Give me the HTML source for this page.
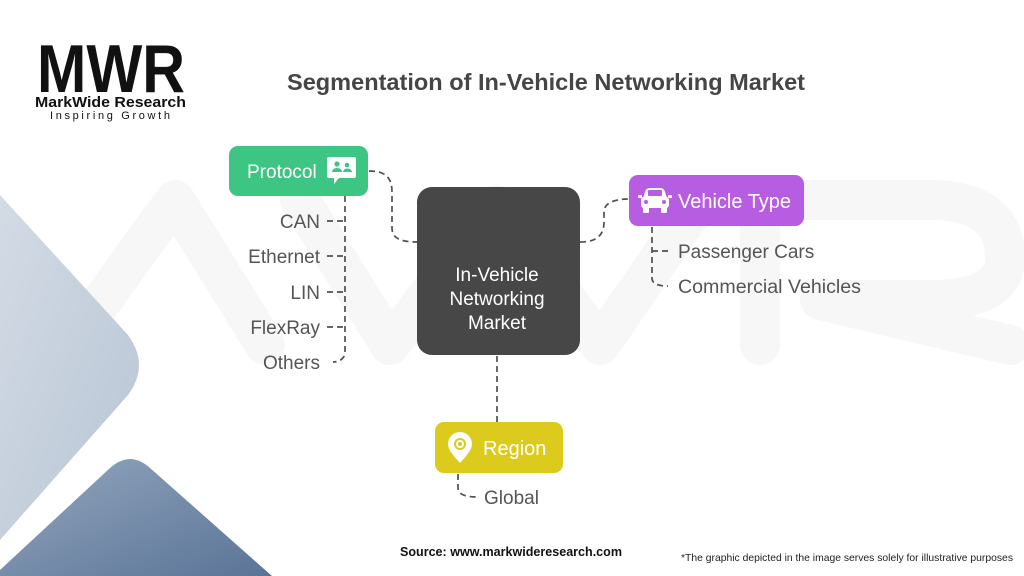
<!DOCTYPE html>
<html><head><meta charset="utf-8">
<style>
html,body{margin:0;padding:0;background:#fff;}
svg{display:block;}
</style></head>
<body>
<svg width="1024" height="576" viewBox="0 0 1024 576" xmlns="http://www.w3.org/2000/svg">
<defs>
<linearGradient id="g1" x1="0" y1="0" x2="1" y2="1">
<stop offset="0" stop-color="#d3dbe5"/><stop offset="1" stop-color="#b8c5d5"/>
</linearGradient>
<linearGradient id="g2" x1="0" y1="0" x2="1" y2="1">
<stop offset="0" stop-color="#93a6bd"/><stop offset="1" stop-color="#5a7497"/>
</linearGradient>
</defs>
<rect width="1024" height="576" fill="#fff"/>

<!-- watermark -->
<g fill="none" stroke="#f7f7f7" stroke-width="40" stroke-linejoin="round" stroke-linecap="round">
<polyline points="70,345 175,200 265,345"/>
<polyline points="300,200 390,345 497,205 600,345 700,200"/>
<path d="M760,345 L760,200 L930,200 Q1005,200 1005,258 Q1005,300 930,300 L820,300 L1010,345"/>
</g>

<!-- background shapes -->
<path d="M0,195 L128,335 Q150,365 128,395 L0,540 Z" fill="url(#g1)"/>
<path d="M0,570 L110,468 Q130,450 150,468 L272,576 L0,576 Z" fill="url(#g2)"/>

<!-- logo -->
<text x="37" y="92" font-family="Liberation Sans, sans-serif" font-weight="bold" font-size="68" fill="#111" textLength="148" lengthAdjust="spacingAndGlyphs">MWR</text>
<text x="35" y="107" font-family="Liberation Sans, sans-serif" font-weight="bold" font-size="15" fill="#111" textLength="151" lengthAdjust="spacingAndGlyphs">MarkWide Research</text>
<text x="50" y="119" font-family="Liberation Sans, sans-serif" font-size="11" fill="#111" textLength="120" lengthAdjust="spacing">Inspiring Growth</text>

<!-- title -->
<text x="287" y="90" font-family="Liberation Sans, sans-serif" font-weight="bold" font-size="23" fill="#454545" textLength="518" lengthAdjust="spacingAndGlyphs">Segmentation of In-Vehicle Networking Market</text>

<!-- connectors -->
<g fill="none" stroke="#505050" stroke-width="1.7" stroke-dasharray="6,4">
<path d="M369,171 C386,171 392,178 392,192 L392,228 C392,238 400,242 417,242"/>
<path d="M580,242 C598,242 604,234 604,222 L604,212 C604,204 612,199 629,199"/>
<path d="M345,196 L345,352 C345,358 340,362 333,362"/>
<path d="M327,221 L345,221 M327,256 L345,256 M327,292 L345,292 M327,327 L345,327"/>
<path d="M652,227 L652,278 C652,284 658,286 668,286"/>
<path d="M652,251 L668,251"/>
<path d="M497,356 L497,422"/>
<path d="M458,474 L458,488 C458,494 464,497 478,497"/>
</g>

<!-- Protocol box -->
<rect x="229" y="146" width="139" height="50" rx="9" fill="#3dc683"/>
<text x="247" y="178" font-family="Liberation Sans, sans-serif" font-size="19" fill="#fff">Protocol</text>
<path d="M329,157 h25 a2,2 0 0 1 2,2 v17 a2,2 0 0 1 -2,2 h-15 l-5,6 v-6 h-5 a2,2 0 0 1 -2,-2 v-17 a2,2 0 0 1 2,-2z" fill="#fff"/>
<circle cx="337" cy="164" r="2.6" fill="#3dc683"/>
<path d="M332,172 a5,4 0 0 1 10,0z" fill="#3dc683"/>
<circle cx="347" cy="165" r="2.3" fill="#3dc683"/>
<path d="M343,172 a4.5,3.5 0 0 1 9,0z" fill="#3dc683"/>

<!-- Protocol items -->
<g font-family="Liberation Sans, sans-serif" font-size="19" fill="#555" text-anchor="end">
<text x="320" y="228">CAN</text>
<text x="320" y="263">Ethernet</text>
<text x="320" y="299">LIN</text>
<text x="320" y="334">FlexRay</text>
<text x="320" y="369">Others</text>
</g>

<!-- center box -->
<rect x="417" y="187" width="163" height="168" rx="15" fill="#474747"/>
<g font-family="Liberation Sans, sans-serif" font-size="19" fill="#fff" text-anchor="middle">
<text x="497" y="281">In-Vehicle</text>
<text x="497" y="305">Networking</text>
<text x="497" y="329">Market</text>
</g>

<!-- Vehicle Type box -->
<rect x="629" y="175" width="175" height="51" rx="9" fill="#b75de1"/>
<text x="678" y="208" font-family="Liberation Sans, sans-serif" font-size="20" fill="#fff">Vehicle Type</text>
<g fill="#fff">
<path d="M645,192 Q646,188 650,188 h10 Q664,188 665,192 l2,6 h-24z"/>
<rect x="641" y="197" width="28" height="11" rx="3"/>
<rect x="643" y="206" width="6" height="7" rx="1.5"/>
<rect x="661" y="206" width="6" height="7" rx="1.5"/>
<rect x="638" y="195" width="4" height="3" rx="1"/>
<rect x="668" y="195" width="4" height="3" rx="1"/>
</g>
<rect x="648" y="190" width="14" height="6" rx="1" fill="#b75de1"/>
<circle cx="646" cy="202" r="2" fill="#b75de1"/>
<circle cx="664" cy="202" r="2" fill="#b75de1"/>

<g font-family="Liberation Sans, sans-serif" font-size="19" fill="#555">
<text x="678" y="258">Passenger Cars</text>
<text x="678" y="293" textLength="183" lengthAdjust="spacingAndGlyphs">Commercial Vehicles</text>
</g>

<!-- Region box -->
<rect x="435" y="422" width="128" height="51" rx="9" fill="#dccb1d"/>
<text x="483" y="455" font-family="Liberation Sans, sans-serif" font-size="20" fill="#fff">Region</text>
<path d="M460,463 C452,454 448,449 448,444 a12,12 0 0 1 24,0 c0,5 -4,10 -12,19z" fill="#fff"/>
<circle cx="460" cy="444" r="6" fill="#dccb1d"/>
<circle cx="460" cy="444" r="4" fill="#fff"/>
<circle cx="460" cy="444" r="2" fill="#dccb1d"/>

<text x="484" y="504" font-family="Liberation Sans, sans-serif" font-size="19" fill="#555">Global</text>

<!-- footer -->
<text x="400" y="556" font-family="Liberation Sans, sans-serif" font-weight="bold" font-size="13" fill="#111" textLength="222" lengthAdjust="spacingAndGlyphs">Source: www.markwideresearch.com</text>
<text x="681" y="561" font-family="Liberation Sans, sans-serif" font-size="10.5" fill="#222" textLength="332" lengthAdjust="spacingAndGlyphs">*The graphic depicted in the image serves solely for illustrative purposes</text>
</svg>
</body></html>
